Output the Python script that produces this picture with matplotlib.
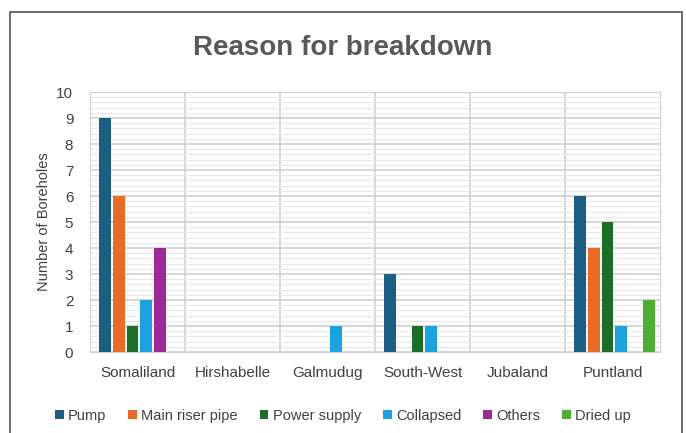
import matplotlib.pyplot as plt
from matplotlib.patches import Rectangle
from matplotlib.ticker import MultipleLocator
import numpy as np

regions = ["Somaliland", "Hirshabelle", "Galmudug", "South-West", "Jubaland", "Puntland"]
series = ["Pump", "Main riser pipe", "Power supply", "Collapsed", "Others", "Dried up"]
pump = [9, 0, 0, 3, 0, 6]
riser = [6, 0, 0, 0, 0, 4]
power = [1, 0, 0, 1, 0, 5]
collapsed = [2, 0, 1, 1, 0, 1]
others = [4, 0, 0, 0, 0, 0]
dried = [0, 0, 0, 0, 0, 2]
colors = ["#1b5e84", "#ea6a26", "#1a6e26", "#1aa3e0", "#9e2a98", "#4caf34"]

plt.rcParams['font.family'] = ['Liberation Sans', 'DejaVu Sans']

fig = plt.figure(figsize=(6.86, 4.33), dpi=100)
fig.patches.append(Rectangle((10 / 686, -0.05), 672 / 686, 1 - 12 / 433 + 0.05,
                             transform=fig.transFigure, fill=False,
                             edgecolor="#555555", linewidth=1.2))

ax = fig.add_axes([90 / 686, 81 / 433, 570 / 686, 260 / 433])

x = np.arange(len(regions))
width = 0.145
values = [pump, riser, power, collapsed, others, dried]
for k, (name, vals) in enumerate(zip(series, values)):
    ax.bar(x + (k - 2.5) * width + 0.02, vals, width * 0.86, color=colors[k], label=name, zorder=3)

ax.set_xlim(-0.5, len(regions) - 0.5)
ax.set_ylim(0, 10)
ax.yaxis.set_major_locator(MultipleLocator(1))
ax.yaxis.set_minor_locator(MultipleLocator(0.2))
ax.grid(axis='y', which='major', color="#d0d0d0", linewidth=1.2, zorder=0)
ax.grid(axis='y', which='minor', color="#e8e8e8", linewidth=0.8, zorder=0)
for b in np.arange(0.5, len(regions) - 0.5):
    ax.axvline(b, color="#d0d0d0", linewidth=1.2, zorder=0)
ax.set_xticks(x)
ax.set_xticklabels(regions, fontsize=11, color="#404040")
ax.tick_params(axis='both', which='both', length=0, labelsize=11, labelcolor="#404040")
ax.tick_params(axis='x', pad=10)
ax.tick_params(axis='y', pad=12)
for s in ["top", "right", "bottom", "left"]:
    ax.spines[s].set_color("#d0d0d0")
ax.set_ylabel("Number of Boreholes", fontsize=10.5, color="#404040", labelpad=4)

fig.text(0.5, 1 - 48 / 433, "Reason for breakdown", ha="center", va="center",
         fontsize=20, fontweight="bold", color="#595959")

fig.legend(loc="center", bbox_to_anchor=(0.5, 1 - 416 / 433), ncol=6, frameon=False,
           fontsize=10.5, handlelength=0.6, handleheight=0.6, handletextpad=0.3,
           columnspacing=1.5, labelcolor="#404040")

fig.savefig("out.png", dpi=100)
